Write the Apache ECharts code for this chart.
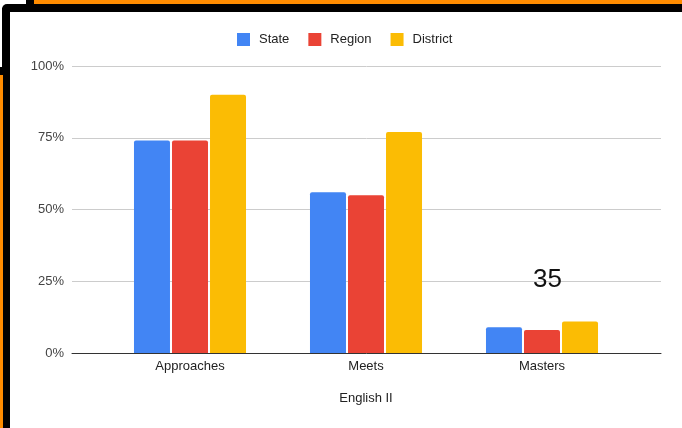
<!DOCTYPE html>
<html><head><meta charset="utf-8">
<script src="https://cdn.jsdelivr.net/npm/echarts@6/dist/echarts.min.js"></script>
<style>html,body{margin:0;padding:0;background:#fff}#c{width:682px;height:428px}</style>
</head><body><div id="c"></div>
<script>
var categories = ['Approaches', 'Meets', 'Masters'];
var stateVals = [74, 56, 9];
var regionVals = [74, 55, 8];
var districtVals = [90, 77, 11];
var seriesNames = ['State', 'Region', 'District'];
var yTicks = [0, 25, 50, 75, 100];
var axisTitle = 'English II';
var annotation = '35';

var colors = ['#4285F4', '#EA4335', '#FBBC04'];
var font = 'Arial, "Liberation Sans", sans-serif';
var chart = echarts.init(document.getElementById('c'), null, {renderer: 'canvas'});
function bar(name, data, i) {
  return {name: name, type: 'bar', xAxisIndex: 1, yAxisIndex: 1, data: data,
    barWidth: 36, barGap: '5.6%', itemStyle: {color: colors[i], borderRadius: [2, 2, 0, 0]}};
}
chart.setOption({
  animation: false,
  color: colors,
  textStyle: {fontFamily: font},
  legend: {top: 33, left: 237, padding: 0, itemWidth: 13, itemHeight: 13, itemGap: 19, icon: 'rect',
    data: seriesNames,
    textStyle: {fontSize: 13, color: '#222', fontFamily: font, padding: [0, 0, 0, 4]}},
  grid: [
    {left: 72, right: 21, top: 66, bottom: 75},
    {left: 102, right: 52, top: 66, bottom: 75}
  ],
  xAxis: [
    {gridIndex: 0, type: 'category', data: [''], axisLine: {lineStyle: {color: '#333', width: 1}},
      axisTick: {show: false}, axisLabel: {show: false}},
    {gridIndex: 1, type: 'category', data: categories, axisLine: {show: false}, axisTick: {show: false},
      axisLabel: {fontSize: 13, color: '#222', margin: 7, fontFamily: font},
      name: axisTitle, nameLocation: 'middle', nameGap: 39,
      nameTextStyle: {fontSize: 13, color: '#222', fontFamily: font}}
  ],
  yAxis: [
    {gridIndex: 0, type: 'value', min: yTicks[0], max: yTicks[yTicks.length - 1], interval: 25,
      axisLine: {show: false}, axisTick: {show: false},
      axisLabel: {formatter: '{value}%', fontSize: 13, color: '#444', margin: 8, fontFamily: font},
      splitLine: {lineStyle: {color: '#ccc', width: 1}}},
    {gridIndex: 1, type: 'value', min: yTicks[0], max: yTicks[yTicks.length - 1], show: false,
      splitLine: {show: false}}
  ],
  series: [bar(seriesNames[0], stateVals, 0), bar(seriesNames[1], regionVals, 1), bar(seriesNames[2], districtVals, 2)],
  graphic: [
    {type: 'text', left: 533, top: 267, z: 100,
      style: {text: annotation, fontSize: 26, fill: '#111', fontFamily: font}},
    {type: 'rect', z: 100, shape: {x: 33, y: 0, width: 649, height: 4}, style: {fill: '#FF8C00'}},
    {type: 'rect', z: 100, shape: {x: 26, y: 0, width: 8, height: 5}, style: {fill: '#000'}},
    {type: 'rect', z: 100, shape: {x: 2, y: 4, width: 680, height: 8, r: [5, 0, 0, 0]}, style: {fill: '#000'}},
    {type: 'rect', z: 100, shape: {x: 2, y: 8, width: 8, height: 420}, style: {fill: '#000'}},
    {type: 'rect', z: 100, shape: {x: 0, y: 67, width: 3, height: 8}, style: {fill: '#000'}},
    {type: 'rect', z: 100, shape: {x: 0, y: 75, width: 3, height: 353}, style: {fill: '#FF8C00'}}
  ]
});
</script></body></html>
